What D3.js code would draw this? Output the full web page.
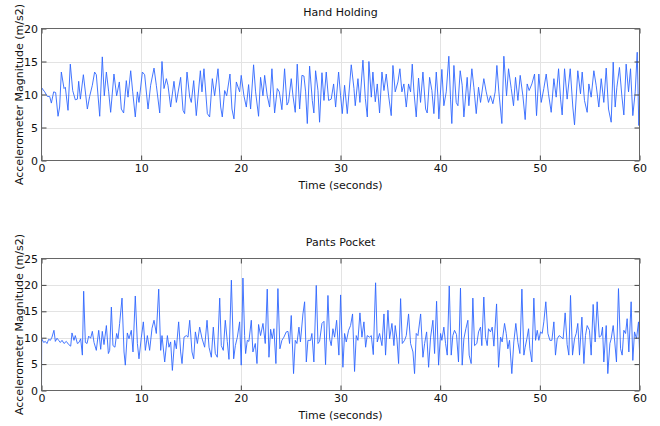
<!DOCTYPE html>
<html><head><meta charset="utf-8">
<script src="https://cdn.jsdelivr.net/npm/d3@7"></script>
<style>
html,body{margin:0;padding:0;background:#fff;}
svg{display:block;font-family:"DejaVu Sans",sans-serif;}
</style></head>
<body><svg id="c" width="660" height="426"></svg>
<script>
const titles = ["Hand Holding", "Pants Pocket"];
const xLabel = "Time (seconds)";
const yLabel = "Accelerometer Magnitude (m/s2)";
const xTicks = [0, 10, 20, 30, 40, 50, 60];
const handYTicks = [0, 5, 10, 15, 20];
const pocketYTicks = [0, 5, 10, 15, 20, 25];

// [time (s), magnitude (m/s2)]
const handHolding = [[0,0],[0.02,11.0],[0.32,10.4],[0.59,9.7],[0.82,9.7],[0.99,8.7],[1.22,10.4],[1.42,10.3],[1.66,6.7],[1.82,8.1],[1.99,13.4],[2.26,10.9],[2.39,11.1],[2.66,7.6],[2.89,14.6],[3.13,10.6],[3.39,9.2],[3.60,9.3],[3.73,12.0],[3.90,9.3],[4.20,13.0],[4.60,7.8],[4.83,9.7],[5.10,11.4],[5.33,13.4],[5.50,13.0],[5.84,6.7],[6.10,15.7],[6.30,9.8],[6.51,13.4],[6.74,10.4],[6.94,7.3],[7.27,13.1],[7.54,9.8],[7.81,11.9],[8.01,7.8],[8.24,7.2],[8.51,12.1],[8.68,9.6],[8.95,13.6],[9.15,10.4],[9.41,6.6],[9.62,10.4],[9.78,8.8],[10.12,13.4],[10.35,13.0],[10.69,7.8],[10.95,11.4],[11.29,14.0],[11.52,11.4],[11.86,7.2],[12.09,15.0],[12.29,10.9],[12.53,12.4],[12.69,11.4],[12.96,8.1],[13.29,12.0],[13.53,8.8],[13.96,12.6],[14.20,7.6],[14.36,7.1],[14.60,13.4],[14.87,9.6],[15.03,8.8],[15.27,12.1],[15.53,6.8],[15.94,13.6],[16.10,10.4],[16.30,13.9],[16.64,7.1],[16.87,6.6],[17.14,12.4],[17.37,9.8],[17.71,13.9],[17.98,8.1],[18.14,6.6],[18.38,10.6],[18.58,9.8],[18.91,13.1],[19.11,7.8],[19.31,6.3],[19.55,11.9],[19.88,10.4],
[20.04,12.9],[20.31,9.8],[20.55,8.1],[20.78,11.5],[20.98,7.8],[21.28,14.5],[21.48,10.4],[21.78,6.7],[21.98,12.6],[22.22,9.8],[22.39,12.9],[22.65,9.8],[22.89,8.1],[23.12,13.9],[23.39,7.2],[23.66,10.9],[23.86,10.4],[24.12,7.7],[24.39,13.9],[24.63,8.4],[24.79,8.9],[25.06,12.4],[25.23,9.8],[25.46,7.3],[25.66,14.6],[25.90,7.8],[26.13,12.9],[26.33,12.8],[26.50,10.4],[26.67,5.6],[26.90,14.3],[27.17,9.1],[27.33,7.2],[27.50,13.6],[27.74,10.6],[27.90,5.8],[28.14,13.3],[28.34,9.1],[28.57,13.4],[28.81,9.1],[29.07,9.3],[29.31,11.6],[29.51,8.1],[29.81,13.4],[30.01,9.8],[30.18,7.1],[30.41,11.4],[30.68,7.1],[31.08,14.5],[31.35,10.9],[31.48,8.3],[31.75,12.4],[31.95,8.8],[32.25,15.2],[32.49,9.4],[32.69,6.6],[32.85,15.0],[33.09,9.6],[33.25,13.4],[33.49,8.9],[33.69,11.6],[33.92,7.2],[34.16,13.4],[34.36,10.6],[34.59,13.1],[34.83,9.8],[35.09,6.8],[35.26,14.4],[35.49,10.4],[35.76,11.9],[35.96,13.9],[36.16,10.4],[36.36,11.6],[36.60,8.1],[36.83,11.6],[37.03,10.4],[37.20,14.6],[37.37,10.4],[37.60,6.6],[37.83,12.5],[38.03,8.8],[38.27,13.4],[38.54,7.8],[38.70,7.2],[38.94,12.6],[39.17,10.6],[39.37,7.1],[39.61,13.4],[39.77,9.8],
[39.87,6.3],[40.17,13.8],[40.37,8.3],[40.61,10.4],[40.87,15.8],[41.04,9.3],[41.17,5.6],[41.38,14.4],[41.61,8.8],[41.78,8.3],[42.01,13.6],[42.21,11.4],[42.38,6.6],[42.71,12.6],[42.88,8.3],[43.18,13.9],[43.38,11.1],[43.62,7.1],[43.85,11.1],[44.05,8.8],[44.38,12.4],[44.62,10.4],[44.85,8.8],[45.05,9.8],[45.29,8.6],[45.52,10.4],[45.69,14.4],[45.89,10.4],[46.19,5.6],[46.39,15.8],[46.66,9.8],[46.86,13.9],[47.13,10.9],[47.36,8.3],[47.56,12.6],[47.80,9.1],[48.03,12.9],[48.30,9.8],[48.53,6.2],[48.73,11.6],[48.93,10.6],[49.20,11.6],[49.47,13.1],[49.67,6.8],[49.90,13.1],[50.14,8.8],[50.40,10.9],[50.64,13.1],[50.87,10.1],[51.14,7.3],[51.41,12.4],[51.64,9.6],[51.88,13.9],[52.08,9.3],[52.24,6.9],[52.48,13.9],[52.74,9.3],[53.05,13.9],[53.31,8.1],[53.48,5.4],[53.81,13.6],[54.08,10.1],[54.25,13.4],[54.48,9.1],[54.75,7.3],[54.92,11.6],[55.15,9.6],[55.42,13.6],[55.65,11.4],[55.92,8.1],[56.16,12.4],[56.42,8.8],[56.66,14.0],[56.89,7.8],[57.16,5.8],[57.36,14.9],[57.56,8.1],[57.73,11.1],[57.99,14.1],[58.23,9.8],[58.43,6.9],[58.66,14.6],[58.90,10.4],[59.10,13.9],[59.33,6.8],[59.57,10.4],[59.77,16.4],[59.93,5.3],[60.0,8.3]];

const pantsPocket = [[0,0],[0.02,9.8],[0.22,9.1],[0.38,9.3],[0.55,8.9],[0.72,9.7],[0.89,9.5],[1.05,10.1],[1.25,11.4],[1.39,9.3],[1.56,9.9],[1.72,9.5],[1.89,9.1],[2.06,9.5],[2.26,8.9],[2.49,9.3],[2.73,8.7],[2.93,8.4],[3.06,10.9],[3.26,9.5],[3.39,10.4],[3.60,8.9],[3.76,9.1],[3.93,9.8],[4.10,6.7],[4.23,18.8],[4.40,9.1],[4.57,8.9],[4.73,10.3],[4.93,9.9],[5.10,11.2],[5.27,9.1],[5.50,7.6],[5.74,11.4],[5.94,7.8],[6.10,11.2],[6.27,8.7],[6.51,12.3],[6.71,7.0],[6.84,7.6],[7.01,15.8],[7.17,8.5],[7.37,8.2],[7.54,10.8],[7.68,9.8],[7.84,12.7],[8.08,17.5],[8.28,7.3],[8.41,4.8],[8.61,10.9],[8.78,9.8],[9.01,11.4],[9.18,7.3],[9.41,17.9],[9.62,8.9],[9.78,6.0],[10.02,10.1],[10.22,13.0],[10.42,7.6],[10.62,10.4],[10.85,7.6],[11.09,11.8],[11.29,13.3],[11.52,10.8],[11.76,19.2],[11.96,7.6],[12.09,10.4],[12.36,5.4],[12.63,10.4],[12.79,8.2],[12.96,9.2],[13.13,3.8],[13.36,9.5],[13.53,7.9],[13.76,13.0],[13.96,7.3],[14.10,5.1],[14.30,10.1],[14.53,10.4],[14.70,10.1],[14.87,13.3],[15.10,7.3],[15.27,6.0],[15.44,11.1],[15.64,8.9],[15.87,12.0],[16.10,9.9],[16.37,8.2],[16.61,13.3],[16.81,8.2],[17.04,6.3],[17.24,12.0],[17.44,7.0],[17.64,6.3],[17.88,17.5],[18.04,8.5],[18.24,7.6],[18.44,13.3],[18.64,9.3],[18.81,5.9],[19.05,20.9],[19.28,6.0],[19.45,8.5],[19.65,10.1],[19.88,13.0],
[20.04,4.8],[20.21,21.3],[20.38,10.4],[20.48,7.0],[20.65,9.5],[20.81,9.3],[21.05,13.3],[21.21,7.3],[21.45,8.9],[21.62,5.1],[21.78,12.5],[21.98,10.4],[22.22,12.7],[22.45,8.9],[22.65,19.2],[22.82,6.3],[22.99,11.6],[23.15,9.8],[23.32,11.7],[23.52,5.1],[23.72,19.3],[23.92,7.9],[24.12,9.5],[24.32,10.1],[24.56,11.1],[24.73,11.2],[24.89,8.9],[25.06,14.2],[25.29,3.2],[25.46,9.5],[25.63,8.9],[25.83,12.0],[25.98,9.2],[26.23,14.5],[26.40,16.8],[26.57,5.4],[26.73,9.5],[27.00,9.5],[27.13,10.8],[27.33,5.4],[27.57,19.9],[27.74,8.9],[27.90,9.3],[28.14,12.7],[28.34,13.1],[28.50,4.9],[28.74,18.0],[28.91,9.8],[29.07,8.5],[29.24,11.7],[29.41,10.1],[29.61,13.3],[29.84,6.7],[30.01,18.1],[30.24,4.4],[30.41,10.8],[30.58,9.2],[30.81,11.4],[31.01,12.3],[31.21,14.5],[31.41,3.6],[31.58,10.4],[31.75,9.5],[31.95,14.7],[32.15,10.1],[32.35,13.0],[32.52,8.2],[32.68,10.4],[32.92,10.1],[33.09,10.4],[33.29,6.8],[33.52,20.4],[33.69,9.2],[33.92,10.8],[34.16,8.5],[34.36,14.5],[34.52,6.7],[34.76,15.2],[34.93,9.8],[35.16,12.7],[35.36,8.5],[35.49,12.3],[35.66,9.8],[35.83,5.1],[36.03,17.4],[36.20,8.9],[36.43,9.5],[36.60,10.4],[36.83,14.5],[37.03,8.9],[37.27,7.3],[37.43,3.2],[37.60,10.8],[37.77,10.4],[38.04,14.5],[38.27,6.3],[38.44,8.9],[38.64,11.1],[38.84,4.4],[39.04,10.1],[39.27,13.3],[39.44,7.0],[39.64,16.9],[39.84,4.8],
[40.04,10.8],[40.17,9.5],[40.37,12.0],[40.54,8.9],[40.71,6.7],[40.91,19.8],[41.11,6.7],[41.27,10.4],[41.44,11.4],[41.64,10.6],[41.84,5.4],[42.04,19.4],[42.21,4.8],[42.38,9.8],[42.58,11.7],[42.78,13.3],[42.91,6.7],[43.11,5.1],[43.28,17.5],[43.45,8.5],[43.68,8.9],[43.85,11.1],[44.05,12.0],[44.18,8.5],[44.38,17.7],[44.55,10.1],[44.72,8.5],[44.85,11.7],[45.05,11.1],[45.22,12.0],[45.39,8.4],[45.66,16.4],[45.86,4.4],[46.06,10.1],[46.22,9.2],[46.46,12.7],[46.63,10.8],[46.79,7.9],[46.96,9.5],[47.19,3.2],[47.39,9.2],[47.59,12.7],[47.80,9.1],[48.00,7.0],[48.20,19.2],[48.40,6.7],[48.53,8.2],[48.70,9.8],[48.87,11.7],[49.00,7.9],[49.20,5.4],[49.40,17.5],[49.57,9.5],[49.74,11.4],[49.90,9.5],[50.07,11.1],[50.24,10.8],[50.40,13.0],[50.60,16.8],[50.81,10.8],[51.01,9.5],[51.21,9.5],[51.41,13.0],[51.57,6.7],[51.74,9.8],[51.94,10.4],[52.14,10.1],[52.34,9.8],[52.54,14.7],[52.74,8.7],[52.91,6.7],[53.08,18.0],[53.28,6.7],[53.48,9.8],[53.65,10.8],[53.81,12.7],[53.98,6.7],[54.22,13.9],[54.42,5.1],[54.58,10.4],[54.75,12.3],[54.98,11.4],[55.15,6.7],[55.35,16.3],[55.55,9.2],[55.75,16.8],[55.96,10.1],[56.16,10.4],[56.29,12.0],[56.42,5.4],[56.66,12.3],[56.82,3.2],[57.03,8.9],[57.16,9.8],[57.36,12.3],[57.49,9.8],[57.69,5.4],[57.89,19.3],[58.10,7.9],[58.26,6.7],[58.43,11.4],[58.60,10.8],[58.76,13.6],[58.93,7.3],[59.16,16.8],[59.33,5.7],[59.50,11.1],[59.70,9.8],[59.90,13.0],[60.0,7.6]];

const svg = d3.select("#c");
const left = 41.5, right = 639.5;
const panels = [
  {title: titles[0], data: handHolding, yTicks: handYTicks, top: 28.5, bottom: 160.5, id: "p0"},
  {title: titles[1], data: pantsPocket, yTicks: pocketYTicks, top: 258.5, bottom: 390.5, id: "p1"}
];

panels.forEach(p => {
  const x = d3.scaleLinear().domain([0, 60]).range([left, right]);
  const y = d3.scaleLinear().domain([0, d3.max(p.yTicks)]).range([p.bottom, p.top]);
  const g = svg.append("g");

  // grid
  g.append("g").selectAll("line").data(xTicks.slice(1, -1)).join("line")
    .attr("x1", d => Math.round(x(d)) + 0.5).attr("x2", d => Math.round(x(d)) + 0.5)
    .attr("y1", p.top).attr("y2", p.bottom).attr("stroke", "#e3e3e3").attr("stroke-width", 1);
  g.append("g").selectAll("line").data(p.yTicks.slice(1, -1)).join("line")
    .attr("y1", d => Math.round(y(d)) + 0.5).attr("y2", d => Math.round(y(d)) + 0.5)
    .attr("x1", left).attr("x2", right).attr("stroke", "#e3e3e3").attr("stroke-width", 1);

  // line
  svg.append("clipPath").attr("id", p.id).append("rect")
    .attr("x", left).attr("y", p.top - 0.5).attr("width", right - left).attr("height", p.bottom - p.top + 1);
  const line = d3.line().x(d => x(d[0])).y(d => y(d[1]));
  g.append("path").datum(p.data).attr("d", line).attr("fill", "none")
    .attr("stroke", "#2f66ff").attr("stroke-width", 0.9).attr("stroke-linejoin", "round")
    .attr("clip-path", `url(#${p.id})`);

  // axes (inward ticks on all sides)
  const tk = 5;
  const xa = d3.axisBottom(x).tickValues(xTicks).tickSize(-tk).tickPadding(4).tickFormat(d3.format("d"));
  const xb = d3.axisTop(x).tickValues(xTicks).tickSize(-tk).tickFormat("");
  const ya = d3.axisLeft(y).tickValues(p.yTicks).tickSize(-tk).tickPadding(3.5).tickFormat(d3.format("d"));
  const yb = d3.axisRight(y).tickValues(p.yTicks).tickSize(-tk).tickFormat("");
  const style = s => {
    s.select(".domain").remove();
    s.selectAll(".tick line").attr("stroke", "#444");
    s.selectAll(".tick text").attr("fill", "#111").style("font-size", "11px").style("font-family", "DejaVu Sans");
  };
  g.append("g").attr("transform", `translate(0,${p.bottom})`).call(xa).call(style);
  g.append("g").attr("transform", `translate(0,${p.top})`).call(xb).call(style);
  g.append("g").attr("transform", `translate(${left},0)`).call(ya).call(style);
  g.append("g").attr("transform", `translate(${right},0)`).call(yb).call(style);

  g.append("rect").attr("x", left).attr("y", p.top).attr("width", right - left).attr("height", p.bottom - p.top)
    .attr("fill", "none").attr("stroke", "#666").attr("stroke-width", 1);

  // labels
  g.append("text").attr("x", (left + right) / 2).attr("y", p.top - 12.5).attr("text-anchor", "middle")
    .style("font-size", "11px").attr("fill", "#111").text(p.title);
  g.append("text").attr("x", (left + right) / 2).attr("y", p.bottom + 28).attr("text-anchor", "middle")
    .style("font-size", "11px").attr("fill", "#111").text(xLabel);
  g.append("text").attr("transform", `translate(23,${(p.top + p.bottom) / 2}) rotate(-90)`)
    .attr("text-anchor", "middle").style("font-size", "11px").attr("fill", "#111").text(yLabel);
});
</script></body></html>
